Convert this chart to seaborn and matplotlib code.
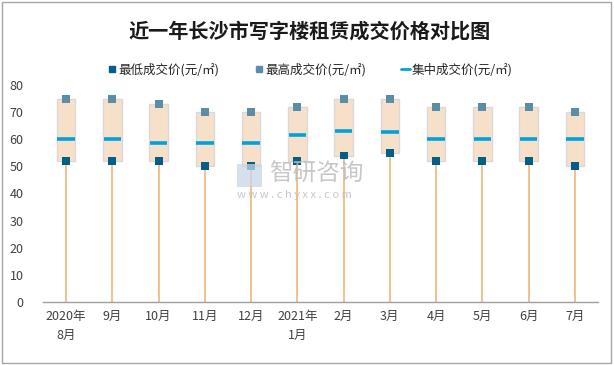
import matplotlib
matplotlib.use("Agg")
import matplotlib.pyplot as plt
import seaborn as sns
import pandas as pd
import numpy as np
from matplotlib.patches import Rectangle
from matplotlib.lines import Line2D

months = ["2020年\n8月", "9月", "10月", "11月", "12月", "2021年\n1月",
          "2月", "3月", "4月", "5月", "6月", "7月"]
low_price = [52, 52, 52, 50, 50, 52, 54, 55, 52, 52, 52, 50]
high_price = [75, 75, 73, 70, 70, 72, 75, 75, 72, 72, 72, 70]
mid_price = [60, 60, 58.5, 58.5, 58.5, 61.5, 63, 62.5, 60, 60, 60, 60]

sns.set_theme(style="white")
plt.rcParams['font.family'] = ['Noto Sans CJK SC', 'DejaVu Sans']

df = pd.DataFrame({"month": months, "low": low_price, "high": high_price, "mid": mid_price})
x = np.arange(len(months))

fig = plt.figure(figsize=(6.14, 3.65), dpi=100)
ax = fig.add_axes([0.070, 0.173, 0.904, 0.594])

c_low = "#045E86"
c_high = "#5A8DA6"
c_mid = "#00A2DE"
c_line = "#F0AE6E"
c_box = "#F7E0C9"

# orange stems from 0 to low
ax.vlines(x, 0, df["low"], color=c_line, lw=1.1, zorder=1)
# boxes from low to high
ax.bar(x, df["high"] - df["low"], bottom=df["low"], width=0.40,
       color=c_box, edgecolor="#D9D9D9", linewidth=1.0, zorder=2)
# mid dashes
ax.hlines(df["mid"], x - 0.19, x + 0.19, color=c_mid, lw=2.6, zorder=3)
# markers
sns.scatterplot(x=x, y=df["low"], marker="s", s=32, color=c_low, edgecolor="none", ax=ax, zorder=4)
sns.scatterplot(x=x, y=df["high"], marker="s", s=32, color=c_high, edgecolor="none", ax=ax, zorder=4)

ax.set_xlim(-0.5, len(months) - 0.5)
ax.set_ylim(0, 80)
ax.set_yticks(range(0, 81, 10))
ax.set_xticks(x)
ax.set_xticklabels(months, fontsize=9, color="#404040", linespacing=1.6)
ax.tick_params(axis="y", labelsize=9, labelcolor="#404040", length=0, pad=14)
ax.tick_params(axis="x", length=0, pad=6)
ax.set_xlabel("")
ax.set_ylabel("")
for s in ["top", "right", "left"]:
    ax.spines[s].set_visible(False)
ax.spines["bottom"].set_color("#A0A0A0")
ax.spines["bottom"].set_linewidth(1.0)
ax.grid(False)

fig.text(0.505, 0.915, "近一年长沙市写字楼租赁成交价格对比图", ha="center", va="center",
         fontsize=14.5, fontweight="bold", color="#1a1a1a")

handles = [
    Line2D([], [], marker="s", ls="none", color=c_low, markersize=5),
    Line2D([], [], marker="s", ls="none", color=c_high, markersize=5),
    Line2D([], [], color=c_mid, lw=2),
]
labels = ["最低成交价(元/㎡)", "最高成交价(元/㎡)", "集中成交价(元/㎡)"]
fig.legend(handles, labels, loc="center", bbox_to_anchor=(0.505, 0.81), ncol=3,
           frameon=False, fontsize=9, handlelength=0.7, handletextpad=0.15,
           columnspacing=2.8, labelcolor="#262626")

# watermark
fig.text(0.438, 0.521, "智研咨询", ha="left", va="center", fontsize=17, color="#BEBEBE", alpha=0.85)
fig.text(0.386, 0.466, "w w w . c h y x x . c o m", ha="left", va="center", fontsize=8, color="#BEBEBE", alpha=0.85)
fig.patches.append(Rectangle((0.386, 0.488), 0.041, 0.063, transform=fig.transFigure,
                             facecolor="#C9D6E6", edgecolor="none", alpha=0.75, zorder=5))

# outer border
fig.patches.append(Rectangle((0.004, 0.006), 0.991, 0.988, transform=fig.transFigure,
                             fill=False, edgecolor="#A6A6A6", lw=1.0))

fig.savefig("out.png", dpi=100)
